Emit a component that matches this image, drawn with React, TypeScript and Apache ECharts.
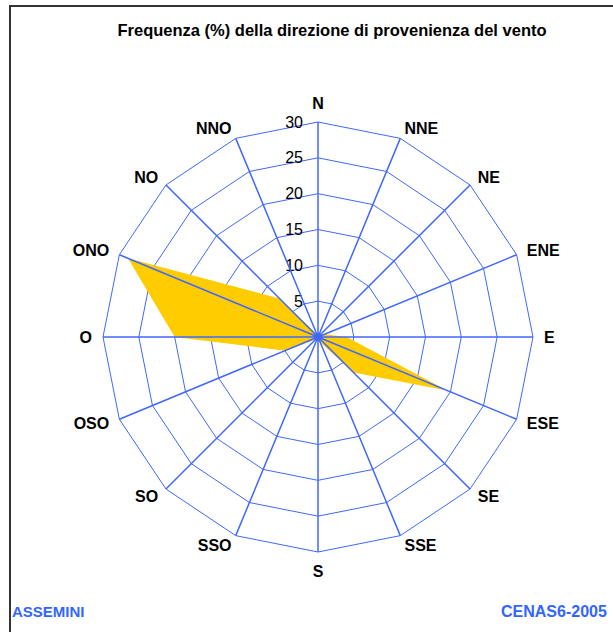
import React, { useEffect, useRef } from "react";
import * as echarts from "echarts";

// Compass directions (clockwise from North)
const directions = ["N", "NNE", "NE", "ENE", "E", "ESE", "SE", "SSE", "S", "SSO", "SO", "OSO", "O", "ONO", "NO", "NNO"];
// Frequency (%) per direction
const frequency = [0.3, 0.3, 0.5, 1, 4, 19.5, 7, 0.8, 0.3, 0.3, 0.5, 5, 20, 28.7, 7.6, 0.5];
const radialMax = 30;
const titleText = "Frequenza (%) della direzione di provenienza del vento";
const stationName = "ASSEMINI";
const sourceName = "CENAS6-2005";

const GRID = "#4068FF";
const FONT = "Liberation Sans, Arial, sans-serif";
const CENTER = [318, 337];
const RADIUS = 215;

export default function App() {
  const ref = useRef<HTMLDivElement>(null);
  useEffect(() => {
    if (!ref.current) return;
    const chart = echarts.init(ref.current, null, { renderer: "svg" });
    // ECharts radar runs counter-clockwise: reorder so compass goes clockwise
    const order = directions.map((_, i) => (directions.length - i) % directions.length);
    const labelStyle = { show: true, color: "#000", fontFamily: FONT, fontSize: 16, margin: 15 };
    const indicator = order.map((idx, k) => ({
      name: directions[idx],
      max: radialMax,
      axisLabel: k === 0 ? labelStyle : { show: false },
    }));
    const values = order.map((idx) => frequency[idx]);
    chart.setOption({
      animation: false,
      backgroundColor: "#ffffff",
      title: {
        text: titleText,
        left: 327,
        top: 16,
        textAlign: "center",
        textStyle: { fontFamily: FONT, fontWeight: "bold", fontSize: 16.5, color: "#000" },
      },
      radar: {
        center: CENTER,
        radius: RADIUS,
        startAngle: 90,
        shape: "polygon",
        splitNumber: 6,
        indicator,
        axisName: { color: "#000", fontFamily: FONT, fontWeight: "bold", fontSize: 16 },
        nameGap: 11,
        axisLine: { show: false },
        splitLine: { show: true, lineStyle: { color: GRID, width: 1 } },
        splitArea: { show: false },
        axisTick: { show: false },
        axisLabel: { show: false },
      },
      // polar: spokes drawn above the filled area
      polar: { center: CENTER, radius: RADIUS },
      angleAxis: {
        type: "category",
        data: directions,
        startAngle: 90,
        clockwise: true,
        boundaryGap: false,
        z: 5,
        axisLine: { show: false },
        axisTick: { show: false },
        axisLabel: { show: false },
        splitLine: { show: true, lineStyle: { color: GRID, width: 1.5 } },
      },
      radiusAxis: {
        min: 0,
        max: radialMax,
        show: false,
        axisLine: { show: false },
        axisTick: { show: false },
        axisLabel: { show: false },
        splitLine: { show: false },
      },
      series: [
        {
          type: "radar",
          symbol: "none",
          z: 2,
          lineStyle: { width: 0, color: "#FFCC00" },
          areaStyle: { color: "#FFCC00", opacity: 1 },
          data: [{ value: values, name: "Frequenza" }],
        },
      ],
      graphic: [
        {
          type: "rect",
          shape: { x: 10, y: 6, width: 700, height: 700 },
          style: { fill: "none", stroke: "#333", lineWidth: 2 },
          silent: true,
        },
        {
          type: "text",
          left: 12,
          top: 604,
          style: { text: stationName, fill: "#3366FF", font: `bold 15px ${FONT}` },
        },
        {
          type: "text",
          left: 501,
          top: 603,
          style: { text: sourceName, fill: "#3366FF", font: `bold 16px ${FONT}` },
        },
      ],
    });
    return () => chart.dispose();
  }, []);
  return <div ref={ref} style={{ position: "absolute", left: 0, top: 0, width: 613, height: 632 }} />;
}
